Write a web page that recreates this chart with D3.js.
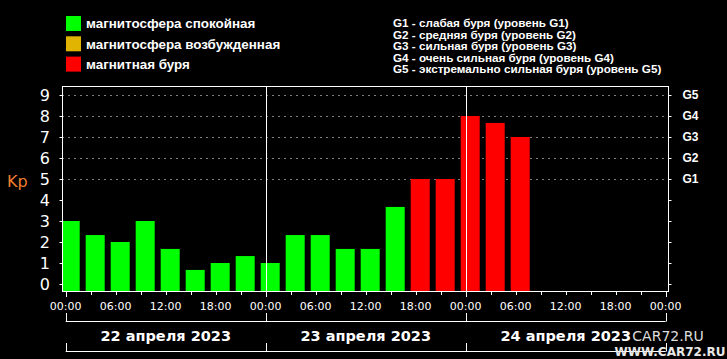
<!DOCTYPE html>
<html><head><meta charset="utf-8">
<script src="https://cdn.jsdelivr.net/npm/d3@7"></script>
<style>html,body{margin:0;padding:0;background:#000;}svg{display:block;}</style>
</head><body>
<script>
// ---- data ----
const barHours = [0,3,6,9,12,15,18,21,24,27,30,33,36,39,42,45,48,51,54];
const kpValues = [3,2.33,2,3,1.67,0.67,1,1.33,1,2.33,2.33,1.67,1.67,3.67,5,5,8,7.67,7];
const xTickHours = [0,6,12,18,24,30,36,42,48,54,60,66,72];
const xTickLabels = ["00:00","06:00","12:00","18:00","00:00","06:00","12:00","18:00","00:00","06:00","12:00","18:00","00:00"];
const dayStarts = [0,24,48];
const dayLabels = ["22 апреля 2023","23 апреля 2023","24 апреля 2023"];
const yTicks = [0,1,2,3,4,5,6,7,8,9];
const gLevels = [5,6,7,8,9];
const gLabels = ["G1","G2","G3","G4","G5"];
const legendItems = ["магнитосфера спокойная","магнитосфера возбужденная","магнитная буря"];
const legendColors = ["#00ff00","#e0b400","#ff0000"];
const gLegend = ["G1 - слабая буря (уровень G1)","G2 - средняя буря (уровень G2)","G3 - сильная буря (уровень G3)","G4 - очень сильная буря (уровень G4)","G5 - экстремально сильная буря (уровень G5)"];

const W=727,H=359;
const svg=d3.select("body").append("svg").attr("width",W).attr("height",H).style("background","#000");
const frame={l:62.5,r:668.5,t:86.5,b:291.5};
const x=d3.scaleLinear().domain([0,72]).range([65.7,665.7]);
const y=d3.scaleLinear().domain([0,9]).range([284,95]);
const color=v=> v>=5?legendColors[2]:(v>=4?legendColors[1]:legendColors[0]);

// gridlines
svg.append("g").selectAll("line").data(gLevels).join("line")
 .attr("x1",frame.l).attr("x2",frame.r).attr("y1",d=>Math.round(y(d))+0.5).attr("y2",d=>Math.round(y(d))+0.5)
 .attr("stroke","#fff").attr("stroke-dasharray","1,5");

// bars
svg.append("clipPath").attr("id","c").append("rect").attr("x",frame.l).attr("y",frame.t).attr("width",frame.r-frame.l).attr("height",frame.b-frame.t);
svg.append("g").attr("clip-path","url(#c)").selectAll("rect").data(barHours).join("rect")
 .attr("x",(d)=>x(d)-5).attr("width",19)
 .attr("y",(d,i)=>y(kpValues[i])).attr("height",(d,i)=>frame.b-y(kpValues[i]))
 .attr("fill",(d,i)=>color(kpValues[i]));

// day separators inside plot
svg.append("g").selectAll("line").data([24,48]).join("line")
 .attr("x1",d=>Math.round(x(d))+0.5).attr("x2",d=>Math.round(x(d))+0.5).attr("y1",frame.t).attr("y2",frame.b)
 .attr("stroke","#fff");

// frame
svg.append("rect").attr("x",frame.l).attr("y",frame.t).attr("width",frame.r-frame.l).attr("height",frame.b-frame.t)
 .attr("fill","none").attr("stroke","#fff");

// left y axis
const yl=svg.append("g");
yl.selectAll("line").data(yTicks).join("line").attr("x1",frame.l-3).attr("x2",frame.l)
 .attr("y1",d=>Math.round(y(d))+0.5).attr("y2",d=>Math.round(y(d))+0.5).attr("stroke","#fff");
yl.selectAll("text").data(yTicks).join("text").attr("x",50).attr("y",d=>y(d)).attr("dy","0.36em")
 .attr("text-anchor","end").attr("fill","#fff").attr("font-family","DejaVu Sans").attr("font-size",16).text(d=>d);
svg.append("text").attr("x",7).attr("y",181).attr("dy","0.36em").attr("fill","#f07d2e")
 .attr("font-family","DejaVu Sans").attr("font-size",16).text("Kp");

// right axis
const yr=svg.append("g");
yr.selectAll("line").data(yTicks).join("line").attr("x1",frame.r).attr("x2",frame.r+3)
 .attr("y1",d=>Math.round(y(d))+0.5).attr("y2",d=>Math.round(y(d))+0.5).attr("stroke","#fff");
yr.selectAll("text").data(gLevels).join("text").attr("x",682.5).attr("y",d=>y(d)).attr("dy","0.36em")
 .attr("fill","#fff").attr("font-family","Liberation Sans").attr("font-weight","bold").attr("font-size",12).text((d,i)=>gLabels[i]);

// x axis ticks
const tick3=[];for(let h=0;h<=72;h+=3)tick3.push(h);
svg.append("g").selectAll("line").data(tick3).join("line")
 .attr("x1",d=>Math.round(x(d))+0.5).attr("x2",d=>Math.round(x(d))+0.5)
 .attr("y1",frame.b).attr("y2",d=>d%24===0?297:295).attr("stroke","#fff");
svg.append("g").selectAll("text").data(xTickHours).join("text")
 .attr("x",d=>x(d)).attr("y",306).attr("dy","0.36em").attr("text-anchor","middle")
 .attr("fill","#fff").attr("font-family","DejaVu Sans").attr("font-size",11).text((d,i)=>xTickLabels[i]);

// date brackets
const br=svg.append("g").attr("stroke","#fff");
[[313,321.5],[343,351.5]].forEach(([a,b])=>{
  br.append("line").attr("x1",x(0)).attr("x2",x(72)).attr("y1",b).attr("y2",b);
  br.selectAll(null).data([0,24,48,72]).join("line")
   .attr("x1",d=>Math.round(x(d))+0.5).attr("x2",d=>Math.round(x(d))+0.5).attr("y1",a).attr("y2",b);
});
svg.append("g").selectAll("text").data(dayStarts).join("text")
 .attr("x",d=>x(d+12)).attr("y",336).attr("dy","0.36em").attr("text-anchor","middle")
 .attr("fill","#fff").attr("font-family","DejaVu Sans").attr("font-weight","bold").attr("font-size",14.5).text((d,i)=>dayLabels[i]);

// legend
const lg=svg.append("g");
legendItems.forEach((t,i)=>{
  lg.append("rect").attr("x",66).attr("y",16+i*20.3).attr("width",15).attr("height",15).attr("fill",legendColors[i]);
  lg.append("text").attr("x",86).attr("y",23.5+i*20.3).attr("dy","0.36em").attr("fill","#fff")
   .attr("font-family","Liberation Sans").attr("font-weight","bold").attr("font-size",13.4).text(t);
});
gLegend.forEach((t,i)=>{
  svg.append("text").attr("x",393).attr("y",22.7+i*11.6).attr("dy","0.36em").attr("fill","#fff")
   .attr("font-family","Liberation Sans").attr("font-weight","bold").attr("font-size",11.7).text(t);
});

// watermark
svg.append("text").attr("x",668).attr("y",336).attr("dy","0.36em").attr("text-anchor","middle")
 .attr("fill","#ddd").attr("font-family","DejaVu Sans").attr("font-size",14).text("CAR72.RU");
svg.append("text").attr("x",670).attr("y",352).attr("dy","0.36em").attr("text-anchor","middle")
 .attr("fill","#e8e8e8").attr("font-family","DejaVu Sans").attr("font-weight","bold").attr("font-size",12).text("WWW.CAR72.RU");
</script>
</body></html>
